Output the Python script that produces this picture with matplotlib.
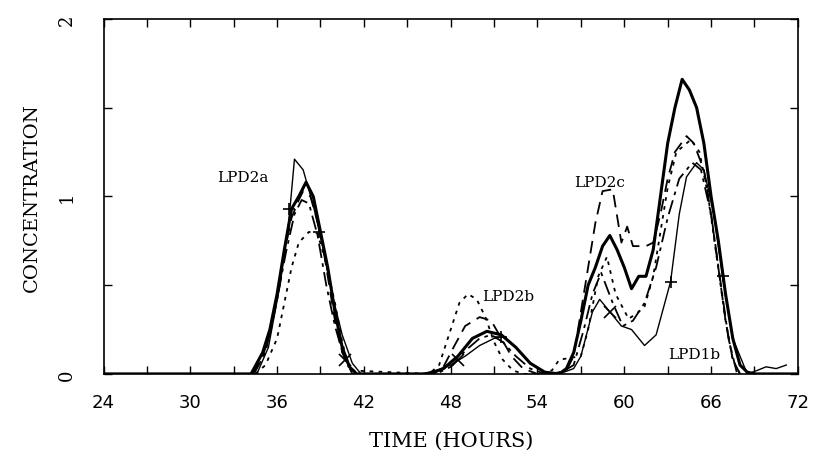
import matplotlib
matplotlib.use('Agg')
import matplotlib.pyplot as plt
from matplotlib.ticker import MultipleLocator

# thick solid
t_a = [24, 34.2, 35, 35.5, 36, 36.5, 37, 37.5, 38, 38.5, 39, 39.5, 40, 40.5, 41, 41.5,
       46.5, 47.5, 48.5, 49.5, 50.5, 51.5, 52.5, 53.5, 54.5, 55.5, 56, 56.5, 57, 57.5,
       58, 58.5, 59, 59.5, 60, 60.5, 61, 61.5, 62, 62.5, 63, 63.5, 64, 64.5, 65, 65.5,
       66, 66.5, 67, 67.5, 68, 68.5, 69, 72]
y_a = [0, 0, 0.12, 0.25, 0.45, 0.7, 0.93, 1.0, 1.08, 1.0, 0.8, 0.6, 0.35, 0.15, 0.04, 0,
       0, 0.03, 0.1, 0.2, 0.24, 0.22, 0.15, 0.06, 0.01, 0, 0.03, 0.12, 0.3, 0.5,
       0.6, 0.72, 0.78, 0.7, 0.6, 0.48, 0.55, 0.55, 0.7, 1.0, 1.3, 1.5, 1.66, 1.6, 1.5, 1.3,
       1.0, 0.75, 0.45, 0.2, 0.05, 0.01, 0, 0]

# long dashed
t_b = [34.3, 35, 35.5, 36, 36.5, 37, 37.5, 37.8, 38.3, 39, 39.5, 40, 40.5, 41.2,
       46.8, 47.5, 48.2, 49, 50, 50.8, 51.5, 52.2, 53, 54, 55,
       56, 56.5, 57, 57.5, 58, 58.5, 59.2, 59.8, 60.2, 60.6, 61, 61.5, 62, 62.5, 63, 63.5,
       64.3, 64.8, 65.5, 66, 66.5, 67, 67.5, 68]
y_b = [0, 0.1, 0.22, 0.42, 0.68, 0.88, 0.98, 1.03, 1.0, 0.8, 0.55, 0.3, 0.12, 0,
       0, 0.04, 0.15, 0.27, 0.32, 0.3, 0.2, 0.1, 0.03, 0, 0,
       0.02, 0.1, 0.35, 0.6, 0.85, 1.03, 1.04, 0.74, 0.83, 0.72, 0.72, 0.72, 0.74, 0.9, 1.1, 1.25,
       1.34, 1.3, 1.15, 0.9, 0.6, 0.3, 0.08, 0]

# dotted
t_c = [34.5, 35.2, 36, 36.5, 37, 37.5, 38.2, 38.8, 39.3, 40, 40.5, 41,
       46.5, 47.2, 48, 48.6, 49.2, 49.8, 50.4, 51, 51.6, 52.3, 53, 54,
       55, 55.5, 57, 57.5, 58.2, 58.8, 59.4, 60.3, 61, 61.4, 62, 62.5, 63, 63.6, 64.6,
       65.2, 65.8, 66.4, 67, 67.5, 68]
y_c = [0, 0.05, 0.2, 0.4, 0.6, 0.74, 0.8, 0.79, 0.65, 0.4, 0.18, 0.02,
       0, 0.05, 0.25, 0.4, 0.45, 0.42, 0.32, 0.18, 0.08, 0.02, 0, 0,
       0.02, 0.08, 0.1, 0.25, 0.55, 0.66, 0.45, 0.31, 0.35, 0.38, 0.55, 0.8, 1.05, 1.25, 1.32,
       1.25, 1.0, 0.65, 0.3, 0.08, 0]

# dash-dot
t_d = [34.4, 35.2, 36, 36.6, 37.2, 37.7, 38.2, 38.8, 39.4, 40, 40.6, 41.3,
       47, 48, 49, 50, 50.8, 51.6, 52.5, 53.5, 54.5,
       55.5, 56.5, 57.2, 57.8, 58.4, 59.2, 59.9, 60.6, 61.4, 62.2, 63, 63.8, 64.7,
       65.3, 66, 66.6, 67.2, 67.8]
y_d = [0, 0.12, 0.42, 0.68, 0.9, 0.98, 0.96, 0.78, 0.5, 0.27, 0.1, 0,
       0, 0.04, 0.13, 0.2, 0.22, 0.18, 0.1, 0.03, 0,
       0, 0.05, 0.25, 0.45, 0.57, 0.4, 0.27, 0.3, 0.4, 0.6, 0.88, 1.1, 1.19,
       1.15, 0.9, 0.55, 0.2, 0]

# thin solid with markers
t_e = [34.6, 35.4, 36.2, 36.8, 37.2, 37.8, 38.5, 39.2, 39.8, 40.5, 41.2, 41.8,
       46, 47, 48, 49, 50, 51, 51.6, 52.5, 53.5, 54.5, 55.5,
       56.5, 57, 57.8, 58.3, 59, 59.8, 60.5, 61.4, 62.2, 63.2, 63.8, 64.3, 65,
       65.5, 66.2, 66.8, 67.5, 68.5, 69.2, 69.8, 70.5, 71.2]
y_e = [0, 0.15, 0.5, 0.85, 1.21, 1.15, 0.95, 0.7, 0.45, 0.22, 0.06, 0,
       0, 0.02, 0.05, 0.1, 0.16, 0.2, 0.21, 0.15, 0.06, 0.01, 0,
       0.03, 0.1, 0.35, 0.42, 0.35, 0.27, 0.25, 0.16, 0.22, 0.52, 0.9, 1.11, 1.19,
       1.15, 0.9, 0.55, 0.2, 0, 0.02, 0.04, 0.03, 0.05]

labels = ['LPD2a', 'LPD2b', 'LPD2c', 'LPD1b']
label_t = [33.6, 52.0, 58.3, 64.8]
label_y = [1.11, 0.44, 1.08, 0.11]

fig = plt.figure(figsize=(8.15, 4.64), dpi=100)
ax = fig.add_axes([0.127, 0.192, 0.852, 0.765])

ax.plot(t_a, y_a, color='black', lw=2.2, ls='-')
ax.plot(t_b, y_b, color='black', lw=1.3, ls=(0, (7, 4)))
ax.plot(t_c, y_c, color='black', lw=1.3, ls=(0, (2, 3)))
ax.plot(t_d, y_d, color='black', lw=1.3, ls=(0, (8, 3, 2, 3)))
ax.plot(t_e, y_e, color='black', lw=1.0, ls='-')

# sparse markers on some curves
mk_t = [36.8, 38.9, 40.7, 48.5, 51.5, 59.0, 63.2, 66.8]
mk_y = [0.93, 0.8, 0.08, 0.08, 0.21, 0.35, 0.52, 0.55]
mk_s = ['+', '+', 'x', 'x', '+', 'x', '+', '+']
for tm, ym, sm in zip(mk_t, mk_y, mk_s):
    ax.plot(tm, ym, marker=sm, color='black', ms=8, mew=1.2, ls='none')

for s, tx, ty in zip(labels, label_t, label_y):
    ax.text(tx, ty, s, family='DejaVu Serif', fontsize=11, ha='center', va='center')

ax.set_xlim(24, 72)
ax.set_ylim(0, 2)
ax.xaxis.set_major_locator(MultipleLocator(6))
ax.xaxis.set_minor_locator(MultipleLocator(3))
ax.yaxis.set_major_locator(MultipleLocator(1))
ax.yaxis.set_minor_locator(MultipleLocator(0.5))
ax.tick_params(which='both', direction='in', top=True, right=True, length=6, width=1)
ax.tick_params(axis='x', labelsize=13, pad=14)
ax.tick_params(axis='y', labelsize=13, pad=20)
for lab in ax.get_yticklabels():
    lab.set_rotation(90)
    lab.set_family('DejaVu Serif')
    lab.set_va('center')
for sp in ax.spines.values():
    sp.set_linewidth(1.2)

ax.set_xlabel('TIME (HOURS)', family='DejaVu Serif', fontsize=15, labelpad=14)
ax.set_ylabel('CONCENTRATION', family='DejaVu Serif', fontsize=14, labelpad=12)

fig.savefig('out.png', dpi=100)
